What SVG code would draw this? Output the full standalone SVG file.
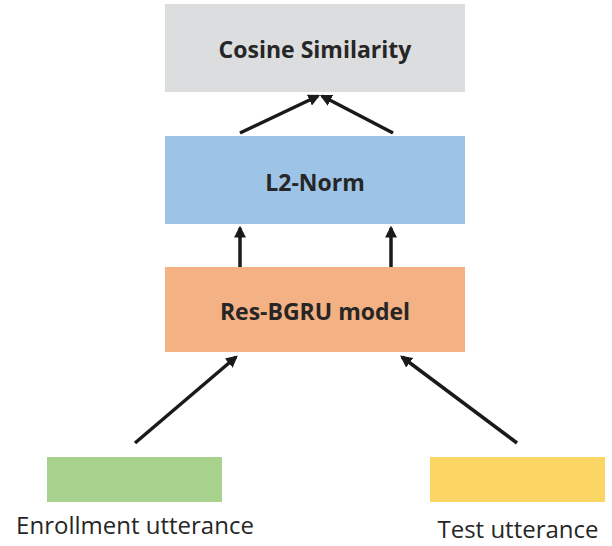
<svg xmlns="http://www.w3.org/2000/svg" width="612" height="546" viewBox="0 0 612 546">
  <defs>
    <marker id="head" viewBox="0 0 10 10" refX="8" refY="5" markerWidth="3.4" markerHeight="3.4" orient="auto" markerUnits="strokeWidth">
      <path d="M0,0 L10,5 L0,10 Z" fill="#1a1a1a"/>
    </marker>
  </defs>
  <style>
    .lbl { font-family: "Open Sans", Lato, "Liberation Sans", sans-serif; font-weight: bold; font-size: 23px; fill: #262626; text-anchor: middle; }
    .cap { font-family: "Open Sans", Lato, "Liberation Sans", sans-serif; font-size: 24px; fill: #262626; text-anchor: middle; }
    .edge { stroke: #1a1a1a; stroke-width: 3.5; fill: none; marker-end: url(#head); }
  </style>
  <rect width="612" height="546" fill="#ffffff"/>

  <g id="cosine">
    <rect x="165" y="4" width="300" height="88" fill="#DCDDDF"/>
    <text class="lbl" x="315" y="58">Cosine Similarity</text>
  </g>
  <g id="l2norm">
    <rect x="165" y="136" width="300" height="88" fill="#9DC3E6"/>
    <text class="lbl" x="315" y="191">L2-Norm</text>
  </g>
  <g id="resbgru">
    <rect x="165" y="267" width="300" height="85" fill="#F4B183"/>
    <text class="lbl" x="315" y="320">Res-BGRU model</text>
  </g>
  <g id="enrollment">
    <rect x="47" y="457" width="175" height="45" fill="#A9D18E"/>
    <text class="cap" x="135" y="534">Enrollment utterance</text>
  </g>
  <g id="test">
    <rect x="430" y="457" width="175" height="45" fill="#FCD664"/>
    <text class="cap" x="518" y="538">Test utterance</text>
  </g>

  <g id="connectors">
    <line class="edge" x1="135" y1="443" x2="236" y2="357"/>
    <line class="edge" x1="517" y1="443" x2="402" y2="357"/>
    <line class="edge" x1="240" y1="267" x2="240" y2="228"/>
    <line class="edge" x1="391" y1="267" x2="391" y2="228"/>
    <line class="edge" x1="240" y1="133" x2="318" y2="96"/>
    <line class="edge" x1="393" y1="133" x2="322" y2="96"/>
  </g>
</svg>
